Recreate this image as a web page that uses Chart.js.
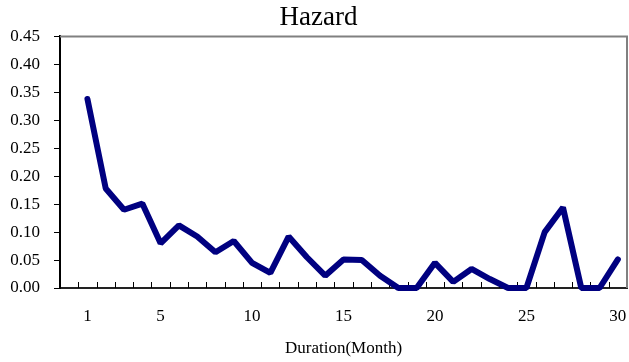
<!DOCTYPE html>
<html lang="en">
<head>
    <meta charset="UTF-8">
    <title>Hazard</title>
    <script src="https://cdn.jsdelivr.net/npm/chart.js@4.4.1/dist/chart.umd.min.js"></script>
    <style>
        body {
            margin: 0;
            background: #ffffff;
        }
        canvas {
            display: block;
        }
    </style>
</head>
<body>
    <canvas id="hazardChart" width="629" height="362"></canvas>

    <script>
        // Data
        const months = [1, 2, 3, 4, 5, 6, 7, 8, 9, 10, 11, 12, 13, 14, 15,
                        16, 17, 18, 19, 20, 21, 22, 23, 24, 25, 26, 27, 28, 29, 30];
        const hazard = [0.338, 0.178, 0.140, 0.151, 0.080, 0.112, 0.092, 0.064, 0.084, 0.045,
                        0.027, 0.092, 0.055, 0.022, 0.051, 0.050, 0.022, 0.000, 0.000, 0.045,
                        0.011, 0.034, 0.016, 0.000, 0.000, 0.100, 0.144, 0.000, 0.000, 0.051];
        const xTickLabels = [1, 5, 10, 15, 20, 25, 30];
        const yTickValues = [0, 0.05, 0.10, 0.15, 0.20, 0.25, 0.30, 0.35, 0.40, 0.45];

        const serif = "'Liberation Serif', 'Times New Roman', serif";

        // Gray frame on top/right and little inward tick marks on the x axis
        const framePlugin = {
            id: 'frame',
            beforeDatasetsDraw(chart) {
                const { ctx, chartArea } = chart;
                const x = chart.scales.x;
                ctx.save();
                ctx.strokeStyle = '#808080';
                ctx.lineWidth = 2;
                ctx.beginPath();
                ctx.moveTo(chartArea.left, chartArea.top);
                ctx.lineTo(chartArea.right, chartArea.top);
                ctx.lineTo(chartArea.right, chartArea.bottom);
                ctx.stroke();

                ctx.strokeStyle = '#000000';
                ctx.lineWidth = 1;
                ctx.beginPath();
                for (let i = 0; i < months.length; i++) {
                    const px = Math.round(x.getPixelForValue(months[i] - 0.5)) + 0.5;
                    ctx.moveTo(px, chartArea.bottom);
                    ctx.lineTo(px, chartArea.bottom - 6);
                }
                ctx.stroke();
                ctx.restore();
            }
        };

        const ctx = document.getElementById('hazardChart').getContext('2d');

        new Chart(ctx, {
            type: 'line',
            data: {
                datasets: [{
                    label: 'Hazard',
                    data: months.map((m, i) => ({ x: m, y: hazard[i] })),
                    borderColor: '#000080',
                    borderWidth: 6,
                    borderJoinStyle: 'bevel',
                    borderCapStyle: 'round',
                    pointRadius: 0,
                    tension: 0,
                    fill: false,
                    clip: false
                }]
            },
            options: {
                responsive: false,
                animation: false,
                devicePixelRatio: 1,
                layout: {
                    padding: { left: 10, right: 2, top: 0, bottom: 0 }
                },
                plugins: {
                    legend: { display: false },
                    tooltip: { enabled: false },
                    title: {
                        display: true,
                        text: 'Hazard',
                        color: '#000000',
                        font: { family: serif, size: 27, weight: 'normal' },
                        padding: { top: 2, bottom: 2 }
                    }
                },
                scales: {
                    x: {
                        type: 'linear',
                        min: -0.5,
                        max: 30.5,
                        afterBuildTicks(scale) {
                            scale.ticks = xTickLabels.map(v => ({ value: v }));
                        },
                        afterFit(scale) {
                            scale.height = 74;
                            scale.paddingLeft = 0;
                            scale.paddingRight = 0;
                        },
                        grid: { display: false, drawTicks: false },
                        border: { display: true, color: '#222222', width: 2 },
                        ticks: {
                            autoSkip: false,
                            maxRotation: 0,
                            padding: 18,
                            color: '#000000',
                            font: { family: serif, size: 17 },
                            callback: v => String(v)
                        },
                        title: {
                            display: true,
                            text: 'Duration(Month)',
                            color: '#000000',
                            font: { family: serif, size: 17 },
                            padding: { top: 0, bottom: 3 }
                        }
                    },
                    y: {
                        min: 0,
                        max: 0.45,
                        afterBuildTicks(scale) {
                            scale.ticks = yTickValues.map(v => ({ value: v }));
                        },
                        afterFit(scale) {
                            scale.width = 50;
                        },
                        grid: {
                            drawOnChartArea: false,
                            drawTicks: true,
                            tickLength: 6,
                            color: '#000000',
                            lineWidth: 1
                        },
                        border: { display: true, color: '#000000', width: 2 },
                        ticks: {
                            padding: 14,
                            color: '#000000',
                            font: { family: serif, size: 17 },
                            callback: v => v.toFixed(2)
                        }
                    }
                }
            },
            plugins: [framePlugin]
        });
    </script>
</body>
</html>
